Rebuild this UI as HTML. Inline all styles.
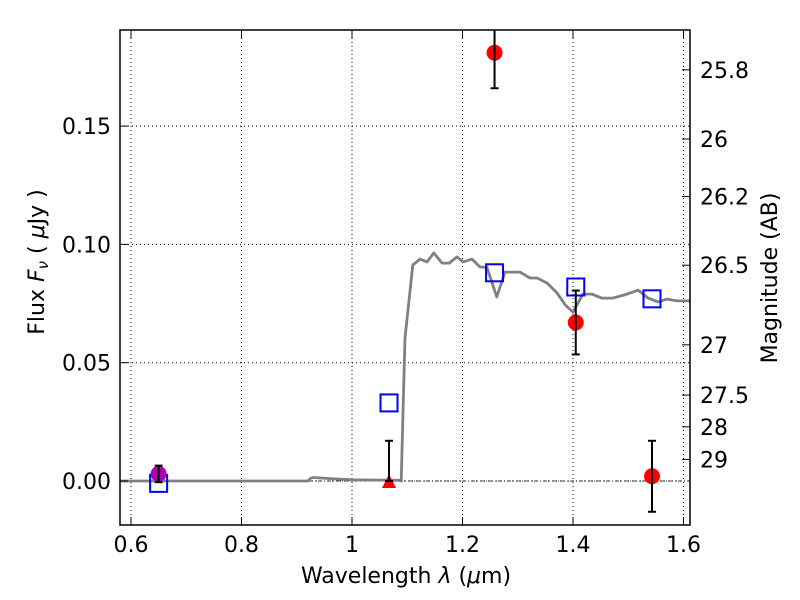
<!DOCTYPE html>
<html><head><meta charset="utf-8"><style>
html,body{margin:0;background:#fff;width:800px;height:600px;overflow:hidden}
svg text{font-family:"DejaVu Sans","Liberation Sans",sans-serif;font-size:22px;fill:#000}
</style></head><body>
<svg id="c" width="800" height="600" style="position:absolute;left:0;top:0">
<text x="406" y="583" text-anchor="middle">Wavelength  <tspan font-style="italic">λ</tspan> (<tspan font-style="italic">μ</tspan>m)</text>
<text transform="translate(44,262) rotate(-90)" text-anchor="middle">Flux  <tspan font-style="italic">F<tspan font-size="15" dy="4">ν</tspan></tspan><tspan dy="-4">  ( </tspan><tspan font-style="italic">μ</tspan>Jy )</text>
<text transform="translate(777,278) rotate(-90)" text-anchor="middle">Magnitude (AB)</text>
</svg>
<script>
const modelLam=[0.58,0.92,0.925,0.93,0.96,1.0,1.085,1.089,1.096,1.110,1.123,1.136,1.148,1.163,1.176,1.190,1.201,1.217,1.232,1.244,1.262,1.277,1.304,1.322,1.335,1.353,1.371,1.386,1.400,1.418,1.434,1.452,1.472,1.498,1.518,1.536,1.554,1.570,1.588,1.613];
const modelFlux=[0,0,0.0012,0.0015,0.001,0.0005,0.0003,0.0,0.0604,0.0913,0.0938,0.0926,0.0964,0.0921,0.0921,0.0947,0.0926,0.0938,0.0904,0.0904,0.0778,0.0883,0.0883,0.0858,0.0858,0.0837,0.0795,0.0744,0.0714,0.0790,0.0790,0.0773,0.0773,0.0790,0.0807,0.0773,0.0757,0.0769,0.0761,0.0761];
const circLam=[1.258,1.405,1.543];
const circFlux=[0.181,0.067,0.002];
const circErr=[0.015,0.0135,0.015];
const magLam=[0.65],magFlux=[0.003],magErr=[0.0035];
const triLam=[1.067],triFlux=[0],triErrUp=[0.017];
const sqLam=[0.65,1.067,1.258,1.405,1.543];
const sqFlux=[-0.001,0.033,0.088,0.082,0.077];
const xTicks=[0.6,0.8,1,1.2,1.4,1.6];
const yTicks=[0,0.05,0.10,0.15];
const yTickLabels=["0.00","0.05","0.10","0.15"];
const magTicks=[25.8,26,26.2,26.5,27,27.5,28,29];

const L=120,R=690,T=30,B=525;
const X=v=>131+(v-0.6)*552.5;
const Y=v=>481-v*2366;
const svg=document.getElementById('c');
const NS='http://www.w3.org/2000/svg';
function mk(tag,at,txt){const e=document.createElementNS(NS,tag);for(const k in at)e.setAttribute(k,at[k]);if(txt!==undefined)e.textContent=txt;svg.appendChild(e);return e;}
xTicks.forEach(v=>{const e=mk('line',{x1:X(v),x2:X(v),y1:T,y2:B,stroke:'#000','stroke-width':1,'stroke-dasharray':'1,3'});

});
yTicks.forEach(v=>{const e=mk('line',{x1:L,x2:R,y1:Y(v),y2:Y(v),stroke:'#000','stroke-width':1,'stroke-dasharray':'1,3'});

});
let z=mk('line',{x1:L,x2:R,y1:Y(0),y2:Y(0),stroke:'#000','stroke-width':0.8,'stroke-dasharray':'4,2,1,2'});


let d=modelLam.map((l,i)=>(i?'L':'M')+X(l).toFixed(1)+','+Y(modelFlux[i]).toFixed(1)).join('');
let m=mk('path',{d:d,fill:'none',stroke:'#808080','stroke-width':2.8,'stroke-linejoin':'round'});


sqLam.forEach((l,i)=>{const e=mk('rect',{x:X(l)-8.5,y:Y(sqFlux[i])-8.5,width:17,height:17,fill:'none',stroke:'#0000ff','stroke-width':2});

});
function errbar(x,lo,hi){
  const g=[mk('line',{x1:x,x2:x,y1:Math.max(T,Y(hi)),y2:Y(lo),stroke:'#000','stroke-width':2})];
  if(Y(hi)>T)g.push(mk('line',{x1:x-4,x2:x+4,y1:Y(hi),y2:Y(hi),stroke:'#000','stroke-width':2}));
  g.push(mk('line',{x1:x-4,x2:x+4,y1:Y(lo),y2:Y(lo),stroke:'#000','stroke-width':2}));
  g.forEach(e=>{
  });
}
circLam.forEach((l,i)=>{const e=mk('circle',{cx:X(l),cy:Y(circFlux[i]),r:8,fill:'#ff0000'});


errbar(X(l),circFlux[i]-circErr[i],circFlux[i]+circErr[i]);});
magLam.forEach((l,i)=>{const e=mk('circle',{cx:X(l),cy:Y(magFlux[i]),r:8,fill:'#aa00aa'});


errbar(X(l),magFlux[i]-magErr[i],magFlux[i]+magErr[i]);});
triLam.forEach((l,i)=>{const x=X(l),y=Y(triFlux[i]);const e=mk('polygon',{points:`${x-7},${y+7} ${x+7},${y+7} ${x},${y-7}`,fill:'#ff0000'});


errbar(x,triFlux[i],triFlux[i]+triErrUp[i]);});
let f=mk('rect',{x:L,y:T,width:R-L,height:B-T,fill:'none',stroke:'#000','stroke-width':1.5});


xTicks.forEach(v=>{mk('line',{x1:X(v),x2:X(v),y1:B,y2:B-8,stroke:'#000'});mk('line',{x1:X(v),x2:X(v),y1:T,y2:T+8,stroke:'#000'});
const t=mk('text',{x:X(v),y:B+27,'text-anchor':'middle'},String(v));

});
yTicks.forEach((v,i)=>{mk('line',{x1:L,x2:L+8,y1:Y(v),y2:Y(v),stroke:'#000'});
const t=mk('text',{x:L-9,y:Y(v)+8,'text-anchor':'end'},yTickLabels[i]);

});
magTicks.forEach(mg=>{const y=Y(Math.pow(10,(23.9-mg)/2.5));mk('line',{x1:R,x2:R-8,y1:y,y2:y,stroke:'#000'});
const t=mk('text',{x:R+10,y:y+8},String(mg));

});
</script>
</body></html>
